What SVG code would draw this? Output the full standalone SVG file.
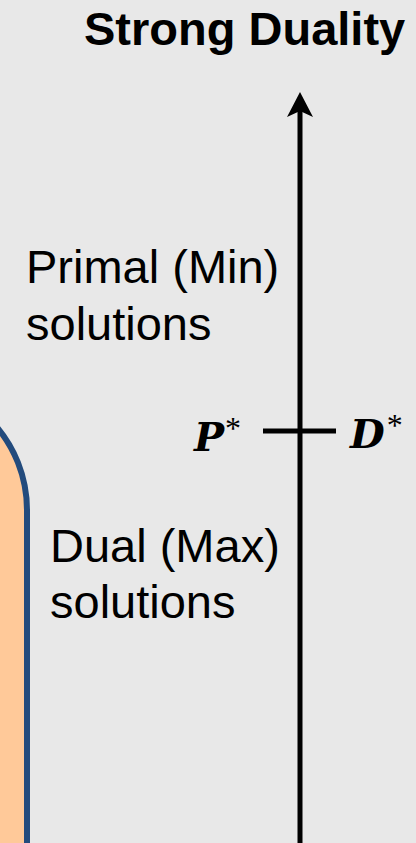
<svg xmlns="http://www.w3.org/2000/svg" width="416" height="843" viewBox="0 0 416 843">
  <style>
    .lbl { font-family: "Liberation Sans", Arial, sans-serif; font-size: 47px; fill: #000; }
    .title { font-weight: bold; }
    .math { font-family: "DejaVu Serif", "Liberation Serif", serif; font-size: 40px; font-weight: bold; font-style: italic; fill: #000; }
    .star { font-family: "Liberation Serif", serif; font-size: 32px; font-weight: normal; font-style: normal; }
    .axis { stroke: #000; stroke-width: 5; fill: none; }
  </style>
  <rect x="0" y="0" width="416" height="843" fill="#e8e8e8"/>

  <g id="region">
    <rect x="-300" y="381" width="327" height="600" rx="129" ry="129" fill="#ffc999" stroke="#234b7d" stroke-width="6"/>
  </g>

  <g id="title">
    <text class="lbl title" x="84" y="45">Strong Duality</text>
  </g>

  <g id="primal-label">
    <text class="lbl" x="26" y="283">Primal (Min)</text>
    <text class="lbl" x="26" y="340">solutions</text>
  </g>

  <g id="dual-label">
    <text class="lbl" x="50" y="562">Dual (Max)</text>
    <text class="lbl" x="50" y="618">solutions</text>
  </g>

  <g id="pstar">
    <text class="math" x="194" y="451">P<tspan class="star" dx="1" dy="-12">*</tspan></text>
  </g>
  <g id="dstar">
    <text class="math" x="350" y="448">D<tspan class="star" dx="2" dy="-12">*</tspan></text>
  </g>

  <g id="connectors">
    <line class="axis" x1="300" y1="843" x2="300" y2="110"/>
    <path d="M300 92 L313 117 L300 111 L287 117 Z" fill="#000"/>
    <line class="axis" x1="263" y1="431" x2="336" y2="431"/>
  </g>
</svg>
